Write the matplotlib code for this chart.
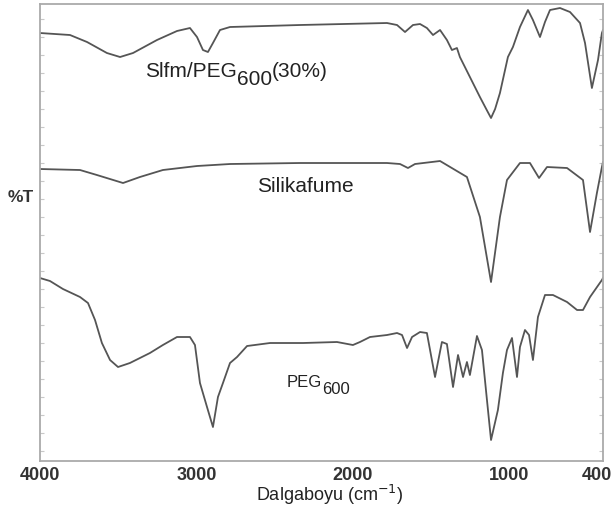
import matplotlib
matplotlib.use("Agg")
import matplotlib.pyplot as plt
import matplotlib.transforms as mtransforms
import numpy as np

plt.rcParams['font.family'] = ['Liberation Sans', 'DejaVu Sans']

# ── Data (arbitrary %T units) ──
slfm_wn = [4000, 3808, 3699, 3572, 3488, 3405, 3252, 3124, 3041, 2996, 2958, 2926,
           2894, 2849, 2785, 2338, 1781, 1717, 1666, 1615, 1570, 1526, 1487, 1442,
           1398, 1366, 1334, 1315, 1251, 1187, 1140, 1116, 1090, 1059, 1008, 976, 931, 880,
           848, 803, 771, 739, 675, 611, 547, 515, 471, 432, 407, 400]
slfm_t = [428, 426, 419, 408, 404, 408, 421, 430, 433, 424, 411, 409,
          418, 431, 434, 436, 438, 436, 429, 436, 437, 433, 426, 431,
          421, 411, 413, 404, 384, 364, 350, 343, 352, 368, 404, 414, 434, 451,
          441, 424, 439, 451, 453, 449, 438, 418, 373, 401, 428, 431]

silika_wn = [4000, 3744, 3636, 3469, 3361, 3214, 2996, 2785, 2338, 1781, 1698, 1647,
             1602, 1442, 1270, 1187, 1116, 1059, 1014, 931, 867, 809, 758, 630,
             528, 483, 439, 407, 400]
silika_t = [292, 291, 286, 278, 284, 291, 295, 297, 298, 298, 297, 293,
            297, 300, 284, 244, 179, 244, 281, 298, 298, 283, 294, 293,
            281, 229, 268, 294, 299]

peg_wn = [4000, 3936, 3853, 3744, 3693, 3648, 3604, 3552, 3501, 3425, 3297, 3214,
          3124, 3041, 3009, 2977, 2932, 2894, 2862, 2830, 2785, 2740, 2676, 2529,
          2318, 2101, 1999, 1954, 1890, 1781, 1717, 1685, 1653, 1621, 1570, 1526,
          1474, 1430, 1398, 1359, 1327, 1295, 1270, 1251, 1206, 1174, 1142, 1116,
          1072, 1040, 1014, 982, 950, 931, 899, 873, 848, 816, 771, 720,
          630, 566, 528, 483, 407, 400]
peg_t = [183, 180, 172, 164, 158, 141, 118, 101, 94, 98, 108, 116,
         124, 124, 116, 78, 54, 34, 64, 78, 98, 104, 115, 118,
         118, 119, 116, 119, 124, 126, 128, 126, 113, 124, 129, 128,
         84, 119, 117, 74, 106, 84, 99, 86, 125, 111, 61, 21,
         51, 88, 111, 123, 84, 114, 131, 126, 101, 144, 166, 166,
         159, 151, 151, 164, 181, 183]

x_ticks = [4000, 3000, 2000, 1000, 400]

# ── Figure ──
fig = plt.figure(figsize=(6.15, 5.14), dpi=100)
ax = fig.add_axes([0.065, 0.1031, 0.9155, 0.8891])

line_kw = dict(color='#555555', linewidth=1.3)
ax.plot(slfm_wn, slfm_t, **line_kw)
ax.plot(silika_wn, silika_t, **line_kw)
ax.plot(peg_wn, peg_t, **line_kw)

ax.set_xlim(4000, 400)
ax.set_ylim(0, 457)

ax.set_xticks(x_ticks)
ax.set_xticklabels([str(v) for v in x_ticks], fontsize=13, fontweight='bold', color='#333333')
ax.tick_params(axis='x', length=0, pad=4)
# last label sits at the right edge, nudge it inward a little
last = ax.get_xticklabels()[-1]
last.set_transform(last.get_transform() + mtransforms.ScaledTranslation(-6 / 100, 0, fig.dpi_scale_trans))

ax.set_yticks(np.arange(10, 457, 18))
ax.set_yticklabels([])
ax.tick_params(axis='y', direction='in', length=3, color='#c8c8c8', left=True, right=True)

for s in ax.spines.values():
    s.set_color('#aaaaaa')
    s.set_linewidth(1.3)


def label_sub(x, y, main, sub, tail='', size=15, drop=6):
    t = ax.text(x, y, main, fontsize=size, color='#222222', va='baseline', ha='left')
    s = ax.annotate(sub, xy=(1, 0), xycoords=t, xytext=(0, -drop), textcoords='offset points',
                    fontsize=size, color='#222222', va='bottom', ha='left')
    if tail:
        ax.annotate(tail, xy=(1, 0), xycoords=s, xytext=(0, drop), textcoords='offset points',
                    fontsize=size, color='#222222', va='bottom', ha='left')


label_sub(3329, 384, 'Slfm/PEG', '600', '(30%)', size=15, drop=6)
ax.text(2613, 269, 'Silikafume', fontsize=15, color='#222222', va='baseline', ha='left')
label_sub(2420, 74, 'PEG', '600', size=12, drop=5)

fig.text(8 / 615, 1 - 197 / 514, '%T', fontsize=12.5, fontweight='bold', color='#333333',
         ha='left', va='center')
fig.text(330 / 615, 1 - 495 / 514, 'Dalgaboyu (cm$^{-1}$)', fontsize=13, color='#222222',
         ha='center', va='center')

plt.savefig('out.png', dpi=100)
